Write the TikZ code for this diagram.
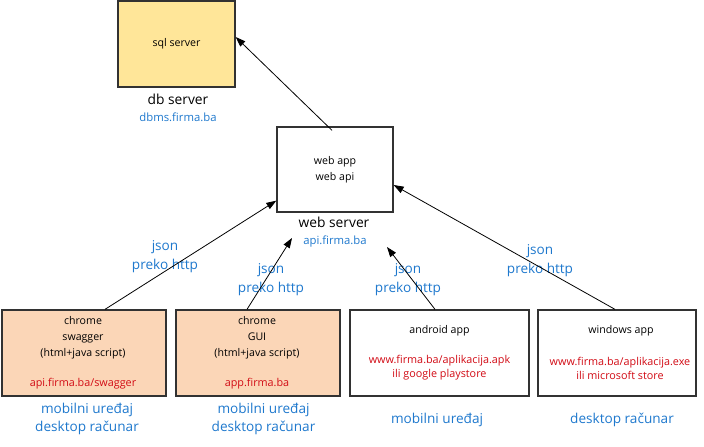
\documentclass[tikz,border=0pt]{standalone}
\usepackage{fontspec}
\setmainfont{Open Sans}
\usetikzlibrary{arrows.meta,shadows}
\definecolor{sqlfill}{RGB}{255,230,153}
\definecolor{webfill}{RGB}{251,214,183}
\definecolor{bluetxt}{RGB}{30,120,205}
\definecolor{redtxt}{RGB}{210,10,20}
\definecolor{edge}{RGB}{50,50,50}
\begin{document}
\begin{tikzpicture}[x=1pt,y=-1pt,
  box/.style={draw=edge,line width=1.3pt,inner sep=0pt,
    drop shadow={shadow xshift=1.2pt,shadow yshift=-1.2pt,fill=black!25,opacity=1}},
  small/.style={inner sep=0pt,font=\fontsize{10.6}{16}\selectfont,align=center},
  addr/.style={inner sep=0pt,font=\fontsize{11.3}{15}\selectfont,text=bluetxt},
  title/.style={inner sep=0pt,font=\fontsize{13.8}{16}\selectfont},
  lbl/.style={inner sep=0pt,font=\fontsize{13.6}{18.5}\selectfont,text=bluetxt,align=center},
  red/.style={inner sep=0pt,font=\fontsize{10.8}{14}\selectfont,text=redtxt,align=center},
  arr/.style={draw=black,line width=0.8pt,-{Triangle[length=10pt,width=7pt]}}]
\useasboundingbox (0,0) rectangle (704,447);
% boxes
\node[box,fill=sqlfill,minimum width=117pt,minimum height=86pt] (sql) at (176.5,44) {};
\node[box,fill=white,minimum width=116pt,minimum height=85pt] (web) at (335,169.5) {};
\node[box,fill=webfill,minimum width=164pt,minimum height=86pt] (b1) at (84,353) {};
\node[box,fill=webfill,minimum width=164pt,minimum height=86pt] (b2) at (258,353) {};
\node[box,fill=white,minimum width=179pt,minimum height=86pt] (b3) at (439.5,353) {};
\node[box,fill=white,minimum width=158pt,minimum height=86pt] (b4) at (617,353) {};
% texts
\node[small] (sqlt) at (176.5,44) {sql server};
\node[title] (dbt) at (178,99) {db server};
\node[addr] (dbaddr) at (178,117) {dbms.firma.ba};
\node[small] (webt) at (335,169.5) {web app\\web api};
\node[title] (wst) at (334,222) {web server};
\node[addr] (wsaddr) at (335,242) {api.firma.ba};
\node[small] (b1t) at (83,338) {chrome\\swagger\\(html+java script)};
\node[red] (b1r) at (83,384) {api.firma.ba/swagger};
\node[small] (b2t) at (257,338) {chrome\\GUI\\(html+java script)};
\node[red] (b2r) at (257,384) {app.firma.ba};
\node[small] (b3t) at (439.5,331) {android app};
\node[red] (b3r) at (439.5,368) {www.firma.ba/aplikacija.apk\\ili google playstore};
\node[small] (b4t) at (621,331) {windows app};
\node[red] (b4r) at (620,368) {www.firma.ba/aplikacija.exe\\ili microsoft store};
\node[lbl] (u1) at (87,419) {mobilni uređaj\\desktop računar};
\node[lbl] (u2) at (263.5,419) {mobilni uređaj\\desktop računar};
\node[lbl] (u3) at (437,420) {mobilni uređaj};
\node[lbl] (u4) at (622,420) {desktop računar};
% connector labels
\node[lbl] (j1) at (165,256.5) {json\\preko http};
\node[lbl] (j2) at (271,279.5) {json\\preko http};
\node[lbl] (j3) at (408,279.5) {json\\preko http};
\node[lbl] (j4) at (540,260.5) {json\\preko http};
% free ends
\coordinate (t2) at (292,238);
\coordinate (t3) at (387,247);
% connectors
\draw[arr] ([xshift=-3pt,yshift=-4pt]web.north) -- ([yshift=7pt]sql.east);
\draw[arr] ([xshift=21pt]b1.north) -- ([yshift=12pt]web.south west);
\draw[arr] ([xshift=-11pt]b2.north) -- (t2);
\draw[arr] ([xshift=-4.5pt]b3.north) -- (t3);
\draw[arr] ([xshift=-2pt]b4.north) -- ([yshift=-15.5pt]web.east);
\end{tikzpicture}
\end{document}
